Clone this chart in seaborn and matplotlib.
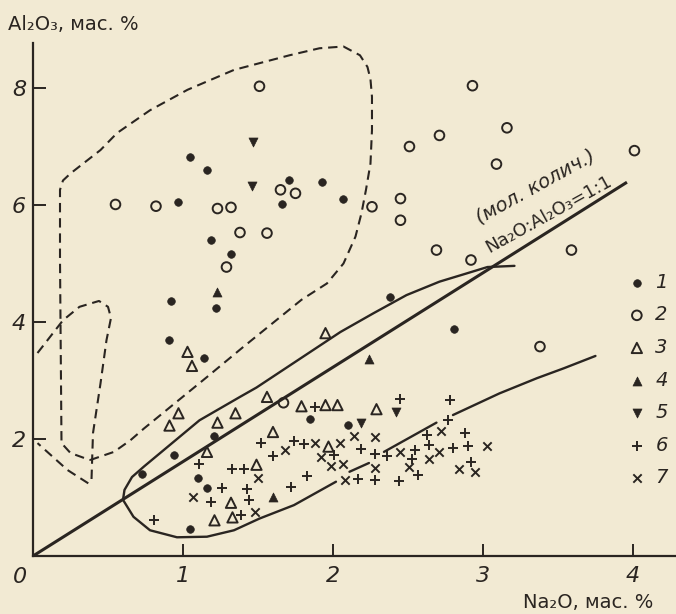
import numpy as np
import matplotlib
matplotlib.use('Agg')
import matplotlib.pyplot as plt
import seaborn as sns

# --- data (Na2O, Al2O3 in wt. %) ---
s1_na = [1.05, 1.16, 0.97, 1.71, 1.66, 1.93, 2.07, 1.19, 1.32, 0.92, 1.22, 0.91, 1.14, 2.81,
         1.85, 2.10, 2.38, 1.21, 0.94, 0.73, 1.10, 1.16, 1.05]
s1_al = [6.82, 6.60, 6.05, 6.43, 6.01, 6.39, 6.11, 5.40, 5.16, 4.36, 4.24, 3.69, 3.39, 3.88,
         2.34, 2.24, 4.42, 2.06, 1.72, 1.40, 1.34, 1.17, 0.47]

s2_na = [0.55, 0.82, 1.23, 1.32, 1.65, 1.75, 1.38, 1.56, 1.29, 1.51, 2.93, 3.16, 2.71, 2.51,
         3.09, 4.01, 2.26, 2.45, 2.45, 2.69, 2.92, 3.59, 3.38, 1.67]
s2_al = [6.01, 5.98, 5.94, 5.96, 6.26, 6.20, 5.53, 5.52, 4.94, 8.03, 8.04, 7.32, 7.19, 7.00,
         6.70, 6.93, 5.97, 6.11, 5.74, 5.23, 5.06, 5.23, 3.58, 2.62]

s3_na = [1.03, 1.06, 1.95, 1.56, 1.79, 1.95, 2.03, 2.29, 0.97, 0.91, 1.23, 1.35, 1.60, 1.16,
         1.49, 1.32, 1.21, 1.33, 1.97]
s3_al = [3.49, 3.25, 3.81, 2.72, 2.56, 2.58, 2.58, 2.51, 2.44, 2.23, 2.28, 2.44, 2.12, 1.78,
         1.56, 0.91, 0.61, 0.66, 1.87]

s4_na = [1.23, 2.24, 1.60]
s4_al = [4.51, 3.36, 1.01]

s5_na = [1.47, 1.46, 2.42, 2.19]
s5_al = [7.07, 6.32, 2.46, 2.27]

s6_na = [1.52, 1.11, 1.33, 1.41, 1.26, 1.43, 1.19, 1.44, 1.39, 0.81, 1.60, 1.74, 1.81, 1.83,
         1.72, 2.01, 1.88, 2.45, 2.78, 2.77, 2.63, 2.88, 2.19, 2.28, 2.36, 2.55, 2.64, 2.53,
         2.80, 2.90, 2.92, 2.57, 2.17, 2.28, 2.44]
s6_al = [1.93, 1.58, 1.49, 1.48, 1.17, 1.15, 0.92, 0.95, 0.70, 0.62, 1.71, 1.97, 1.92, 1.36,
         1.18, 1.73, 2.55, 2.68, 2.66, 2.33, 2.07, 2.10, 1.83, 1.74, 1.71, 1.82, 1.89, 1.66,
         1.85, 1.88, 1.61, 1.39, 1.31, 1.30, 1.29]

s7_na = [1.50, 1.07, 1.48, 1.68, 1.88, 1.92, 1.99, 2.05, 2.07, 2.14, 2.28, 2.08, 2.28, 2.45,
         2.71, 2.64, 2.72, 2.51, 2.84, 2.95, 3.03]
s7_al = [1.34, 1.01, 0.76, 1.81, 1.93, 1.69, 1.54, 1.94, 1.57, 2.05, 2.03, 1.30, 1.50, 1.77,
         1.78, 1.66, 2.14, 1.52, 1.48, 1.44, 1.88]

series_labels = ['1', '2', '3', '4', '5', '6', '7']

# line Na2O:Al2O3 = 1:1 (molar)
ratio_na = [0.0, 3.96]
ratio_al = [0.0, 6.39]

# solid outline (gaps where it passes through points)
nan = np.nan
env_na = [3.21, 3.03, 2.89, 2.71, 2.49, 2.27, 2.05, 1.49, 1.38, 1.11, 0.74, 0.66, 0.61, 0.60,
          0.67, 0.78, 0.96, 1.16, 1.34, 1.51, 1.74, 2.02, nan, 2.11, 2.24, nan, 2.34, 2.69,
          nan, 2.80, 3.11, 3.36, 3.54, 3.75]
env_al = [4.96, 4.94, 4.83, 4.69, 4.46, 4.15, 3.83, 2.88, 2.72, 2.32, 1.53, 1.35, 1.13, 0.96,
          0.67, 0.44, 0.32, 0.33, 0.44, 0.64, 0.87, 1.27, nan, 1.44, 1.59, nan, 1.78, 2.28,
          nan, 2.41, 2.78, 3.04, 3.21, 3.42]

# large dashed field
field_na = [0.38, 0.54, 0.65, 0.74, 1.16, 1.40, 1.79, 1.96, 2.07, 2.15, 2.19, 2.22, 2.25, 2.26,
            2.26, 2.25, 2.23, 2.18, 2.07, 1.91, 1.71, 1.34, 1.03, 0.78, 0.56, 0.45, 0.25, 0.20,
            0.18, 0.18, 0.19, 0.25, 0.38]
field_al = [1.64, 1.78, 1.98, 2.18, 3.06, 3.57, 4.38, 4.66, 5.00, 5.46, 5.86, 6.26, 6.71, 7.28,
            7.85, 8.15, 8.36, 8.56, 8.71, 8.68, 8.56, 8.31, 7.97, 7.62, 7.23, 6.94, 6.54, 6.42,
            6.26, 5.06, 1.93, 1.76, 1.64]

# small dashed loop at the axis
loop_na = [0.03, 0.20, 0.31, 0.44, 0.50, 0.52, 0.49, 0.45, 0.40, 0.39, 0.37, 0.23, 0.03]
loop_al = [3.47, 4.03, 4.26, 4.36, 4.26, 4.07, 3.69, 2.95, 2.10, 1.30, 1.24, 1.47, 1.93]

# --- style ---
sns.set_style('ticks')
plt.rcParams['font.family'] = ['DejaVu Sans']

ink = '#2a2521'
paper = '#f2ead3'

fig = plt.figure(figsize=(6.76, 6.14), dpi=100, facecolor=paper)
ax = fig.add_axes([33 / 676, 58 / 614, 643 / 676, 513 / 614])
ax.set_facecolor(paper)

# outlines
ax.plot(ratio_na, ratio_al, color=ink, lw=2.2, solid_capstyle='butt', zorder=2)
ax.plot(env_na, env_al, color=ink, lw=1.7, solid_joinstyle='round', zorder=2)
ax.plot(field_na, field_al, color=ink, lw=1.5, ls=(0, (4.5, 2.8)), zorder=2)
ax.plot(loop_na, loop_al, color=ink, lw=1.5, ls=(0, (4.5, 2.8)), zorder=2)

# points
sns.scatterplot(x=s1_na, y=s1_al, marker='o', s=30, color=ink, edgecolor=ink, linewidth=0.5,
                label=series_labels[0], ax=ax, zorder=3)
sns.scatterplot(x=s2_na, y=s2_al, marker='o', s=48, facecolor='none', edgecolor=ink,
                linewidth=1.4, label=series_labels[1], ax=ax, zorder=3)
sns.scatterplot(x=s3_na, y=s3_al, marker='^', s=55, facecolor='none', edgecolor=ink,
                linewidth=1.4, label=series_labels[2], ax=ax, zorder=3)
sns.scatterplot(x=s4_na, y=s4_al, marker='^', s=42, color=ink, edgecolor=ink, linewidth=0.5,
                label=series_labels[3], ax=ax, zorder=3)
sns.scatterplot(x=s5_na, y=s5_al, marker='v', s=42, color=ink, edgecolor=ink, linewidth=0.5,
                label=series_labels[4], ax=ax, zorder=3)
sns.scatterplot(x=s6_na, y=s6_al, marker='+', s=60, color=ink, linewidth=1.4,
                label=series_labels[5], ax=ax, zorder=3)
sns.scatterplot(x=s7_na, y=s7_al, marker='x', s=36, color=ink, linewidth=1.4,
                label=series_labels[6], ax=ax, zorder=3)

leg = ax.legend(loc='upper left', bbox_to_anchor=(0.924, 0.552), frameon=False,
                borderpad=0, borderaxespad=0, handlelength=1.0, handletextpad=0.45,
                labelspacing=0.70, prop={'size': 14, 'style': 'italic'})
for t in leg.get_texts():
    t.set_color(ink)

# axes
ax.set_xlim(0, 4.287)
ax.set_ylim(0, 8.77)
ax.set_xticks([1, 2, 3, 4])
ax.set_yticks([2, 4, 6, 8])
sns.despine(ax=ax)
for side in ['left', 'bottom']:
    ax.spines[side].set_linewidth(1.6)
    ax.spines[side].set_color(ink)
ax.tick_params(direction='in', length=9, width=1.4, colors=ink, labelsize=16)
ax.tick_params(axis='x', pad=7)
ax.tick_params(axis='y', pad=5)
for lbl in ax.get_xticklabels() + ax.get_yticklabels():
    lbl.set_style('italic')
ax.set_xlabel('')
ax.set_ylabel('')

ax.text(-0.087, -0.36, '0', fontsize=16, style='italic', color=ink,
        ha='center', va='center', clip_on=False)
ax.text(-0.167, 9.09, 'Al₂O₃, мас. %', fontsize=14, color=ink,
        ha='left', va='center', clip_on=False)
ax.text(3.70, -0.80, 'Na₂O, мас. %', fontsize=14, color=ink,
        ha='center', va='center', clip_on=False)

# label along the 1:1 line
ax.text(3.35, 6.32, '(мол. колич.)', fontsize=14, style='italic', color=ink,
        rotation=29, rotation_mode='anchor', ha='center', va='center')
ax.text(3.44, 5.85, 'Na₂O:Al₂O₃=1:1', fontsize=13, color=ink,
        rotation=29, rotation_mode='anchor', ha='center', va='center')

plt.savefig('out.png', dpi=100, facecolor=paper)
